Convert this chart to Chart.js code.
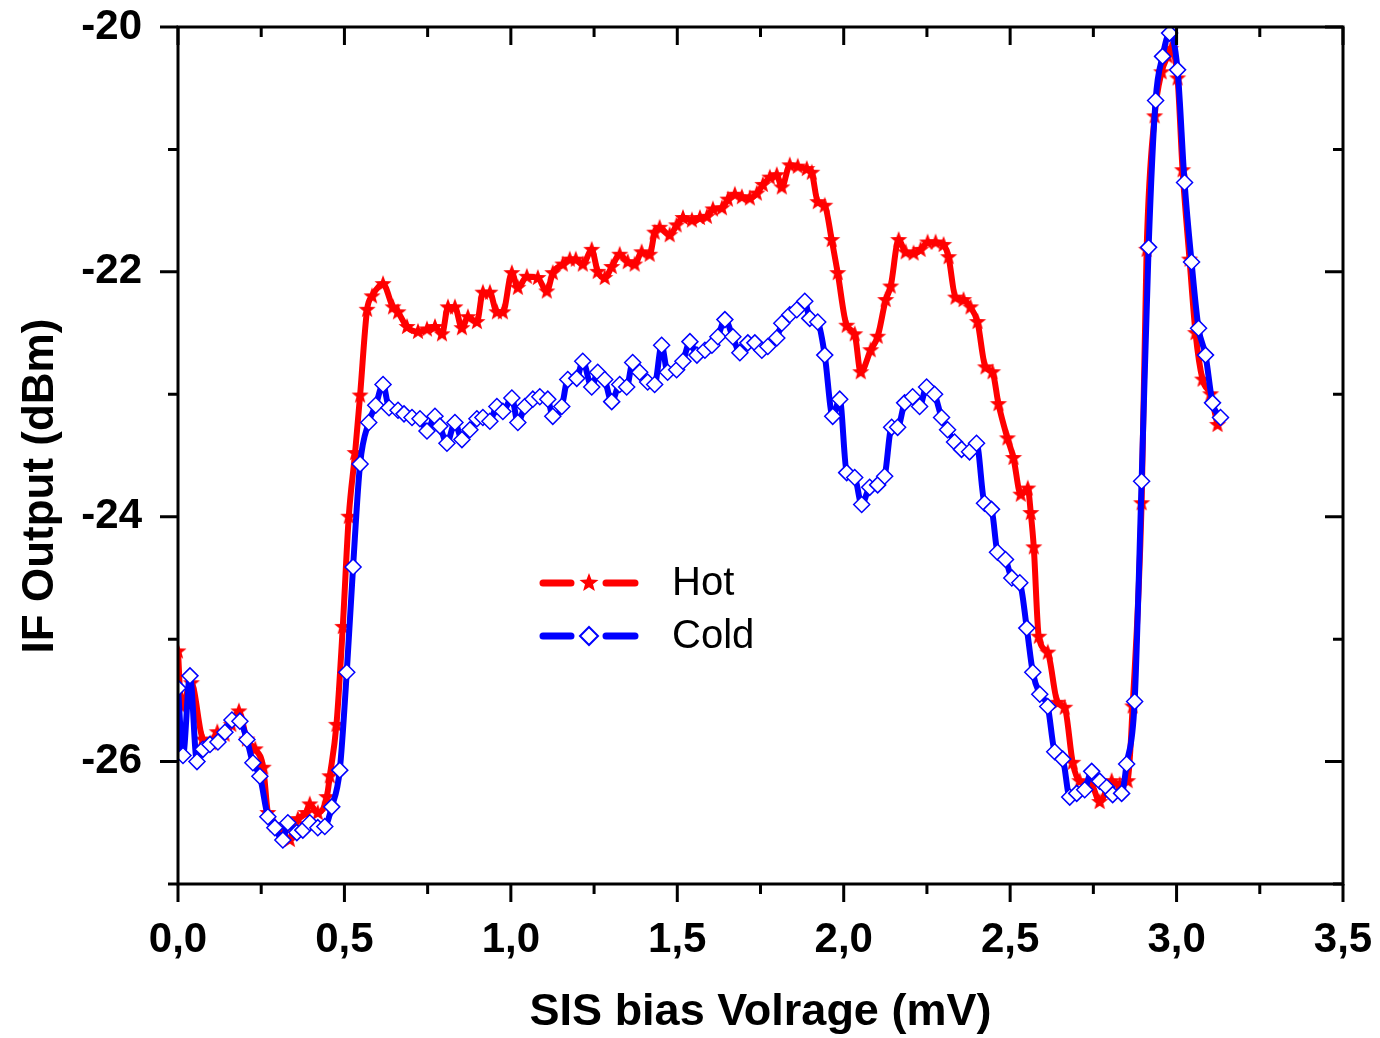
<!DOCTYPE html>
<html>
<head>
<meta charset="utf-8">
<title>IF Output vs SIS bias voltage</title>
<script src="https://cdn.jsdelivr.net/npm/chart.js@4.4.0/dist/chart.umd.min.js"></script>
<style>
  html, body { margin: 0; padding: 0; background: #fff; }
  #wrap { width: 1380px; height: 1038px; }
</style>
</head>
<body>
<div id="wrap"><canvas id="ifChart" width="1380" height="1038"></canvas></div>
<script>
/* Hot / Cold IF output vs SIS bias */
const hotVolts = [
  0.000, 0.010, 0.040, 0.075, 0.100, 0.118, 0.140, 0.160, 0.183, 0.207,
  0.232, 0.256, 0.270, 0.290, 0.315, 0.336, 0.360, 0.385, 0.396, 0.420,
  0.447, 0.456, 0.476, 0.495, 0.513, 0.532, 0.547, 0.568, 0.583, 0.616,
  0.646, 0.661, 0.688, 0.721, 0.748, 0.772, 0.793, 0.811, 0.832, 0.853,
  0.871, 0.898, 0.916, 0.937, 0.958, 0.976, 1.003, 1.021, 1.048, 1.081,
  1.108, 1.126, 1.156, 1.177, 1.195, 1.216, 1.243, 1.261, 1.282, 1.303,
  1.327, 1.351, 1.372, 1.393, 1.417, 1.432, 1.447, 1.477, 1.498, 1.517,
  1.544, 1.568, 1.589, 1.607, 1.634, 1.652, 1.673, 1.694, 1.718, 1.739,
  1.757, 1.778, 1.799, 1.814, 1.838, 1.862, 1.889, 1.904, 1.922, 1.943,
  1.964, 1.982, 2.009, 2.033, 2.051, 2.081, 2.102, 2.126, 2.141, 2.165,
  2.186, 2.210, 2.231, 2.252, 2.276, 2.300, 2.315, 2.336, 2.360, 2.381,
  2.402, 2.426, 2.447, 2.465, 2.492, 2.510, 2.532, 2.553, 2.562, 2.571,
  2.586, 2.613, 2.643, 2.664, 2.688, 2.709, 2.745, 2.769, 2.805, 2.829,
  2.853, 2.868, 2.895, 2.910, 2.934, 2.955, 2.973, 2.982, 3.003, 3.018,
  3.039, 3.057, 3.078, 3.102, 3.123
];
const hotDbm = [
  -25.10, -25.55, -25.36, -25.82, -25.85, -25.76, -25.78, -25.70, -25.59, -25.82,
  -25.90, -26.05, -26.42, -26.52, -26.58, -26.64, -26.47, -26.42, -26.35, -26.42,
  -26.29, -26.12, -25.70, -24.90, -24.00, -23.48, -23.01, -22.31, -22.20, -22.10,
  -22.29, -22.33, -22.45, -22.49, -22.47, -22.45, -22.51, -22.29, -22.29, -22.46,
  -22.37, -22.41, -22.17, -22.17, -22.33, -22.33, -22.01, -22.13, -22.04, -22.05,
  -22.16, -22.01, -21.94, -21.90, -21.90, -21.94, -21.82, -22.00, -22.05, -21.96,
  -21.86, -21.92, -21.94, -21.84, -21.86, -21.68, -21.64, -21.70, -21.62, -21.56,
  -21.58, -21.56, -21.55, -21.49, -21.48, -21.41, -21.37, -21.39, -21.40, -21.36,
  -21.29, -21.23, -21.21, -21.31, -21.13, -21.14, -21.16, -21.19, -21.43, -21.46,
  -21.74, -22.01, -22.44, -22.51, -22.82, -22.64, -22.53, -22.23, -22.12, -21.74,
  -21.84, -21.85, -21.82, -21.76, -21.76, -21.78, -21.88, -22.21, -22.23, -22.29,
  -22.41, -22.78, -22.82, -23.08, -23.36, -23.52, -23.82, -23.77, -23.97, -24.25,
  -24.98, -25.11, -25.52, -25.56, -26.01, -26.16, -26.19, -26.33, -26.16, -26.19,
  -26.16, -25.55, -23.89, -21.82, -20.73, -20.37, -20.24, -20.18, -20.42, -21.17,
  -21.90, -22.50, -22.88, -23.00, -23.25
];

const coldVolts = [
  0.000, 0.015, 0.036, 0.057, 0.075, 0.096, 0.120, 0.141, 0.162, 0.186,
  0.207, 0.225, 0.246, 0.270, 0.291, 0.315, 0.330, 0.357, 0.375, 0.396,
  0.420, 0.441, 0.462, 0.486, 0.507, 0.526, 0.547, 0.573, 0.594, 0.616,
  0.634, 0.661, 0.679, 0.703, 0.727, 0.748, 0.772, 0.787, 0.808, 0.832,
  0.853, 0.877, 0.898, 0.916, 0.937, 0.958, 0.976, 1.003, 1.021, 1.042,
  1.066, 1.087, 1.111, 1.126, 1.153, 1.171, 1.198, 1.216, 1.243, 1.261,
  1.282, 1.303, 1.327, 1.348, 1.366, 1.387, 1.411, 1.432, 1.453, 1.471,
  1.498, 1.517, 1.538, 1.559, 1.583, 1.604, 1.622, 1.643, 1.667, 1.688,
  1.712, 1.733, 1.754, 1.772, 1.799, 1.814, 1.838, 1.859, 1.883, 1.898,
  1.922, 1.943, 1.967, 1.988, 2.009, 2.033, 2.054, 2.078, 2.102, 2.123,
  2.144, 2.162, 2.183, 2.207, 2.228, 2.249, 2.273, 2.294, 2.312, 2.333,
  2.354, 2.378, 2.399, 2.423, 2.444, 2.462, 2.486, 2.505, 2.529, 2.550,
  2.568, 2.589, 2.613, 2.634, 2.658, 2.679, 2.700, 2.724, 2.745, 2.769,
  2.790, 2.808, 2.835, 2.850, 2.874, 2.895, 2.916, 2.937, 2.958, 2.979,
  3.003, 3.024, 3.045, 3.066, 3.087, 3.108, 3.132
];
const coldDbm = [
  -25.40, -25.95, -25.30, -26.00, -25.90, -25.86, -25.84, -25.76, -25.66, -25.67,
  -25.82, -26.01, -26.12, -26.45, -26.54, -26.64, -26.50, -26.58, -26.56, -26.50,
  -26.54, -26.53, -26.37, -26.07, -25.27, -24.41, -23.57, -23.23, -23.09, -22.92,
  -23.11, -23.13, -23.16, -23.19, -23.20, -23.30, -23.18, -23.26, -23.40, -23.23,
  -23.37, -23.29, -23.20, -23.19, -23.22, -23.10, -23.14, -23.03, -23.23, -23.10,
  -23.04, -23.02, -23.04, -23.18, -23.10, -22.88, -22.87, -22.73, -22.94, -22.82,
  -22.88, -23.06, -22.92, -22.94, -22.74, -22.82, -22.90, -22.92, -22.60, -22.82,
  -22.80, -22.73, -22.57, -22.68, -22.64, -22.60, -22.53, -22.39, -22.53, -22.66,
  -22.58, -22.58, -22.64, -22.61, -22.54, -22.42, -22.35, -22.31, -22.24, -22.38,
  -22.41, -22.68, -23.18, -23.04, -23.64, -23.68, -23.90, -23.76, -23.74, -23.67,
  -23.27, -23.27, -23.07, -23.02, -23.10, -22.94, -23.00, -23.19, -23.29, -23.39,
  -23.45, -23.47, -23.40, -23.89, -23.94, -24.29, -24.35, -24.50, -24.54, -24.91,
  -25.27, -25.45, -25.55, -25.92, -25.98, -26.29, -26.26, -26.23, -26.08, -26.16,
  -26.21, -26.27, -26.26, -26.02, -25.51, -23.71, -21.80, -20.60, -20.24, -20.05,
  -20.35, -21.27, -21.92, -22.46, -22.68, -23.07, -23.19
];

const xMajorTicks = [0, 0.5, 1.0, 1.5, 2.0, 2.5, 3.0, 3.5];
const xMinorTicks = [0.25, 0.75, 1.25, 1.75, 2.25, 2.75, 3.25];
const yMajorTicks = [-20, -22, -24, -26];
const yMinorTicks = [-21, -23, -25, -27];

const FONT = "'Liberation Sans', Arial, Helvetica, sans-serif";

function makeStar(r, color) {
  const size = Math.ceil(r * 2 + 2);
  const c = document.createElement('canvas');
  c.width = size; c.height = size;
  const g = c.getContext('2d');
  g.fillStyle = color;
  g.beginPath();
  for (let i = 0; i < 10; i++) {
    const rad = i % 2 ? r * 0.42 : r;
    const a = -Math.PI / 2 + i * Math.PI / 5;
    g.lineTo(size / 2 + rad * Math.cos(a), size / 2 + rad * Math.sin(a));
  }
  g.closePath();
  g.fill();
  return c;
}

const starImg = makeStar(9, '#ff0000');
const starLegend = makeStar(10, '#ff0000');

// Origin style frame: outward ticks on bottom/left, inward on top/right
const framePlugin = {
  id: 'frame',
  afterDraw(chart) {
    const { ctx, chartArea: a, scales } = chart;
    const xs = scales.x, ys = scales.y;
    ctx.save();
    ctx.strokeStyle = '#000';
    ctx.lineWidth = 3;
    ctx.lineCap = 'butt';
    ctx.strokeRect(a.left, a.top, a.right - a.left, a.bottom - a.top);
    ctx.beginPath();
    xMajorTicks.forEach(v => {
      const px = xs.getPixelForValue(v);
      ctx.moveTo(px, a.bottom); ctx.lineTo(px, a.bottom + 18);
      ctx.moveTo(px, a.top); ctx.lineTo(px, a.top + 18);
    });
    xMinorTicks.forEach(v => {
      const px = xs.getPixelForValue(v);
      ctx.moveTo(px, a.bottom); ctx.lineTo(px, a.bottom + 10);
      ctx.moveTo(px, a.top); ctx.lineTo(px, a.top + 10);
    });
    yMajorTicks.forEach(v => {
      const py = ys.getPixelForValue(v);
      ctx.moveTo(a.left, py); ctx.lineTo(a.left - 18, py);
      ctx.moveTo(a.right, py); ctx.lineTo(a.right - 18, py);
    });
    yMinorTicks.forEach(v => {
      const py = ys.getPixelForValue(v);
      ctx.moveTo(a.left, py); ctx.lineTo(a.left - 10, py);
      ctx.moveTo(a.right, py); ctx.lineTo(a.right - 10, py);
    });
    ctx.stroke();

    // y axis title sits a little below the centre of the axis
    ctx.translate(41, 486);
    ctx.rotate(-Math.PI / 2);
    ctx.fillStyle = '#000';
    ctx.font = 'bold 44px ' + FONT;
    ctx.textAlign = 'center';
    ctx.textBaseline = 'middle';
    ctx.fillText('IF Output (dBm)', 0, 0);
    ctx.restore();
  }
};

// legend inside the plot: line - marker - line, then label
const legendPlugin = {
  id: 'innerLegend',
  afterDraw(chart) {
    const ctx = chart.ctx;
    const rows = [
      { y: 583, color: '#ff0000', text: 'Hot', marker: 'star' },
      { y: 636, color: '#0000ff', text: 'Cold', marker: 'diamond' }
    ];
    ctx.save();
    rows.forEach(r => {
      ctx.strokeStyle = r.color;
      ctx.lineWidth = 7;
      ctx.lineCap = 'round';
      ctx.beginPath();
      ctx.moveTo(543, r.y); ctx.lineTo(571, r.y);
      ctx.moveTo(606, r.y); ctx.lineTo(635, r.y);
      ctx.stroke();
      if (r.marker === 'star') {
        ctx.drawImage(starLegend, 589 - starLegend.width / 2, r.y - starLegend.height / 2);
      } else {
        ctx.lineWidth = 2;
        ctx.lineCap = 'butt';
        ctx.fillStyle = '#fff';
        ctx.beginPath();
        ctx.moveTo(589, r.y - 9); ctx.lineTo(598, r.y);
        ctx.lineTo(589, r.y + 9); ctx.lineTo(580, r.y);
        ctx.closePath();
        ctx.fill(); ctx.stroke();
      }
      ctx.fillStyle = '#000';
      ctx.font = '40px ' + FONT;
      ctx.textAlign = 'left';
      ctx.textBaseline = 'middle';
      ctx.fillText(r.text, 672, r.y + 1);
    });
    ctx.restore();
  }
};

const ctx = document.getElementById('ifChart').getContext('2d');
new Chart(ctx, {
  type: 'line',
  data: {
    datasets: [
      {
        label: 'Hot',
        data: hotVolts.map((v, i) => ({ x: v, y: hotDbm[i] })),
        borderColor: '#ff0000',
        borderWidth: 6,
        borderJoinStyle: 'round',
        borderCapStyle: 'round',
        pointStyle: starImg,
        pointRadius: 9,
        cubicInterpolationMode: 'monotone',
        fill: false,
        order: 2
      },
      {
        label: 'Cold',
        data: coldVolts.map((v, i) => ({ x: v, y: coldDbm[i] })),
        borderColor: '#0000ff',
        borderWidth: 6,
        borderJoinStyle: 'round',
        borderCapStyle: 'round',
        pointStyle: 'rectRot',
        pointRadius: 8,
        pointBackgroundColor: '#ffffff',
        pointBorderColor: '#0000ff',
        pointBorderWidth: 1.5,
        cubicInterpolationMode: 'monotone',
        fill: false,
        order: 1
      }
    ]
  },
  options: {
    responsive: false,
    animation: false,
    layout: { padding: { top: 27, right: 37, left: 0, bottom: 0 } },
    plugins: {
      legend: { display: false },
      tooltip: { enabled: false }
    },
    scales: {
      x: {
        type: 'linear',
        min: 0,
        max: 3.5,
        afterFit: s => { s.height = 154; s.paddingLeft = 0; s.paddingRight = 0; },
        grid: { display: false },
        border: { display: false },
        ticks: {
          stepSize: 0.5,
          maxRotation: 0,
          autoSkip: false,
          padding: 23,
          color: '#000',
          font: { family: FONT, size: 42, weight: 'bold' },
          callback: v => v.toFixed(1).replace('.', ',')
        },
        title: {
          display: true,
          text: 'SIS bias Volrage (mV)',
          color: '#000',
          font: { family: FONT, size: 45, weight: 'bold' },
          padding: { top: 0, bottom: -2 }
        }
      },
      y: {
        min: -27,
        max: -20,
        afterFit: s => { s.width = 178; s.paddingTop = 0; s.paddingBottom = 0; },
        grid: { display: false },
        border: { display: false },
        ticks: {
          stepSize: 1,
          padding: 28,
          color: '#000',
          font: { family: FONT, size: 42, weight: 'bold' },
          callback: v => (v % 2 === 0 ? String(v) : '')
        },
        title: { display: false }
      }
    }
  },
  plugins: [framePlugin, legendPlugin]
});
</script>
</body>
</html>
